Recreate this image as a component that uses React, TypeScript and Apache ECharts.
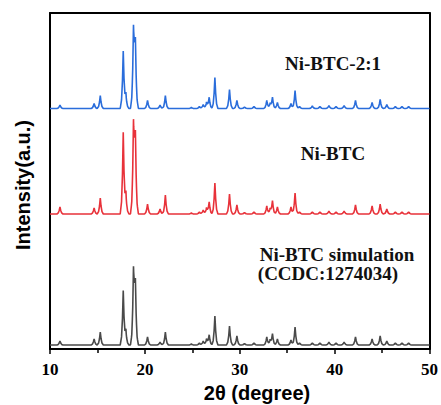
import React, { useEffect, useRef } from "react";
import * as echarts from "echarts";

// 2θ positions (degree) of the diffraction peaks
const peakAngles = [
  11.05, 14.65, 15.3, 17.72, 18.0, 18.8, 18.9, 19.0, 20.28, 21.6, 22.16,
  24.9, 25.75, 26.15, 26.5, 26.78, 27.38, 28.92, 29.7, 30.5, 31.5,
  32.85, 33.2, 33.45, 33.97, 35.4, 35.83, 36.3, 37.65, 38.45, 39.4,
  40.15, 41.0, 42.2, 43.95, 44.8, 45.5, 46.4, 47.1, 47.8,
];

// peak heights (a.u.) above each pattern's baseline
const simHeights = [
  4, 6, 13, 54, 14, 66, 14, 52.5, 8, 3, 13,
  1, 2, 4, 6, 10, 29, 19, 9, 1.5, 2,
  8, 5, 11, 6, 5, 18, 2, 2, 2, 3,
  2, 3, 8, 6, 9, 4, 2, 2, 2,
];
const niBtcHeights = [
  7, 6, 16, 81, 20, 79, 17, 66.5, 10, 5, 19,
  1, 2, 4, 6, 12, 31, 20, 9, 1.5, 2,
  8, 5, 13, 7, 7, 21, 2, 2, 2, 3,
  2, 3, 9, 8, 10, 5, 2, 2, 2,
];
const niBtc21Heights = [
  3.5, 5, 13, 57, 14, 70, 15, 56, 8, 3.5, 13,
  1, 2, 4, 6, 11, 31, 19, 8, 1.5, 2,
  8, 5, 11, 6, 5, 18, 2, 2.5, 2, 3,
  2, 3, 8, 6, 9, 4, 2, 2, 2,
];

// vertical offsets (baselines) of the stacked patterns
const simBaseline = 4;
const niBtcBaseline = 135;
const niBtc21Baseline = 240.5;

const xMin = 10;
const xMax = 50;
const xInterval = 10;
const yMax = 336;

const seriesNames = ["Ni-BTC simulation", "Ni-BTC", "Ni-BTC-2:1"];
const seriesColors = ["#4a4a4a", "#e8323a", "#2a6ddb"];

const annotationTexts = ["Ni-BTC-2:1", "Ni-BTC", "Ni-BTC simulation", "(CCDC:1274034)"];
const xAxisTitle = "2θ (degree)";
const yAxisTitle = "Intensity(a.u.)";

// peak profile template: [distance from centre (deg), fraction of peak height]
const profile = [
  [0, 1],
  [0.08, 0.5],
  [0.18, 0.15],
  [0.32, 0],
];

function profileAt(d: number): number {
  d = Math.abs(d);
  for (let k = 0; k < profile.length - 1; k++) {
    const [d0, f0] = profile[k];
    const [d1, f1] = profile[k + 1];
    if (d >= d0 && d <= d1) return f0 + ((f1 - f0) * (d - d0)) / (d1 - d0);
  }
  return 0;
}

function buildTrace(heights: number[], base: number): number[][] {
  const xs = new Set<number>([xMin, xMax]);
  peakAngles.forEach((a) => {
    profile.forEach(([d]) => {
      xs.add(+(a - d).toFixed(3));
      xs.add(+(a + d).toFixed(3));
    });
  });
  const sorted = Array.from(xs).sort((p, q) => p - q);
  return sorted.map((x) => {
    let v = 0;
    peakAngles.forEach((a, i) => {
      v += heights[i] * profileAt(x - a);
    });
    return [x, base + v];
  });
}

export default function App() {
  const ref = useRef<HTMLDivElement>(null);

  useEffect(() => {
    document.body.style.margin = "0";
    if (!ref.current) return;
    const chart = echarts.init(ref.current, undefined, { renderer: "svg" });

    const traces = [
      buildTrace(simHeights, simBaseline),
      buildTrace(niBtcHeights, niBtcBaseline),
      buildTrace(niBtc21Heights, niBtc21Baseline),
    ];

    const serifBold = "bold 19px 'Liberation Serif', 'Times New Roman', serif";
    const sansBold = "bold 20px 'Liberation Sans', Arial, sans-serif";
    const frameAxis = {
      axisLine: { show: true, onZero: false, lineStyle: { color: "#000", width: 2 } },
      axisTick: { show: false },
      axisLabel: { show: false },
      splitLine: { show: false },
    };

    chart.setOption({
      animation: false,
      backgroundColor: "#ffffff",
      grid: {
        left: 50,
        right: 10,
        top: 13,
        bottom: 56,
      },
      xAxis: [
        {
          type: "value",
          min: xMin,
          max: xMax,
          interval: xInterval,
          position: "bottom",
          axisLine: { show: true, onZero: false, lineStyle: { color: "#000", width: 2 } },
          axisTick: { show: true, inside: false, length: 5, lineStyle: { color: "#000", width: 1.5 } },
          minorTick: { show: true, splitNumber: 2, length: 4, lineStyle: { color: "#000", width: 1.5 } },
          axisLabel: {
            color: "#000",
            fontFamily: "Liberation Serif",
            fontWeight: "bold",
            fontSize: 17,
            margin: 12,
          },
          splitLine: { show: false },
        },
        { type: "value", min: xMin, max: xMax, interval: xInterval, position: "top", ...frameAxis },
      ],
      yAxis: [
        {
          type: "value",
          min: 0,
          max: yMax,
          position: "left",
          ...frameAxis,
        },
        { type: "value", min: 0, max: yMax, position: "right", ...frameAxis },
      ],
      series: traces.map((data, i) => ({
        name: seriesNames[i],
        type: "line",
        data,
        showSymbol: false,
        symbol: "none",
        lineStyle: { color: seriesColors[i], width: 1.6 },
        itemStyle: { color: seriesColors[i] },
      })),
      graphic: [
        {
          type: "text",
          x: 333,
          y: 63,
          style: { text: annotationTexts[0], font: serifBold, fill: "#111", textAlign: "center", textVerticalAlign: "middle" },
        },
        {
          type: "text",
          x: 333,
          y: 153,
          style: { text: annotationTexts[1], font: serifBold, fill: "#111", textAlign: "center", textVerticalAlign: "middle" },
        },
        {
          type: "text",
          x: 337,
          y: 254,
          style: { text: annotationTexts[2], font: serifBold, fill: "#111", textAlign: "center", textVerticalAlign: "middle" },
        },
        {
          type: "text",
          x: 328,
          y: 273,
          style: { text: annotationTexts[3], font: serifBold, fill: "#111", textAlign: "center", textVerticalAlign: "middle" },
        },
        {
          type: "text",
          x: 257,
          y: 393,
          style: { text: xAxisTitle, font: sansBold, fill: "#000", textAlign: "center", textVerticalAlign: "middle" },
        },
        {
          type: "text",
          x: 23,
          y: 185,
          rotation: Math.PI / 2,
          style: { text: yAxisTitle, font: sansBold, fill: "#000", textAlign: "center", textVerticalAlign: "middle" },
        },
      ],
    });

    return () => chart.dispose();
  }, []);

  return <div ref={ref} style={{ width: 441, height: 405 }} />;
}
